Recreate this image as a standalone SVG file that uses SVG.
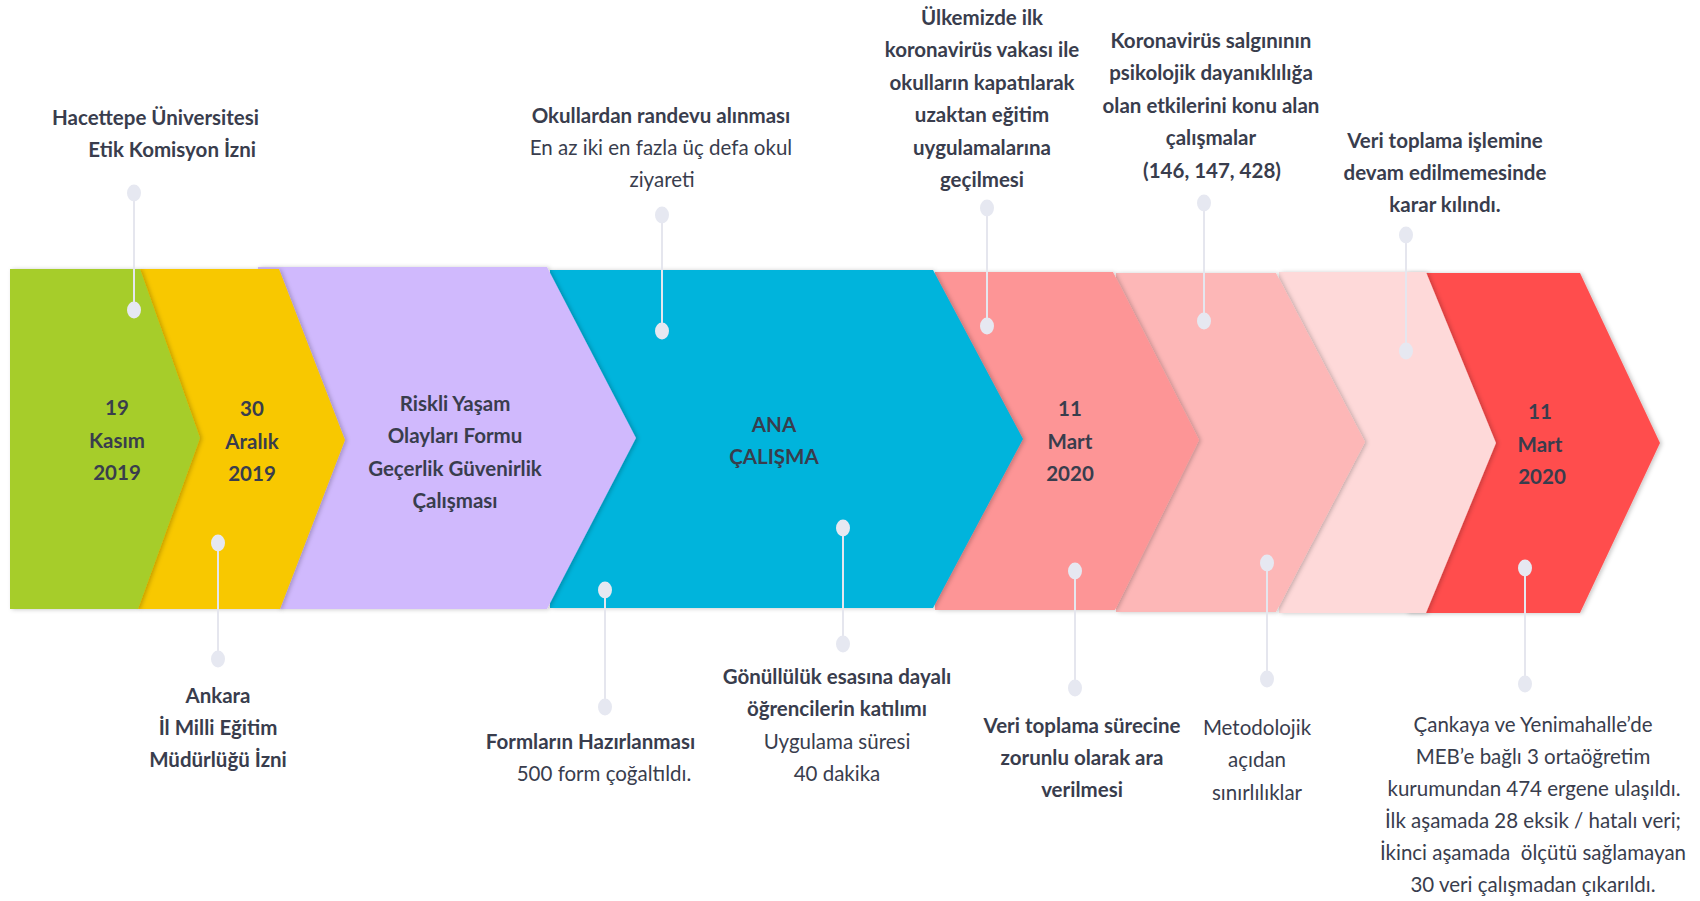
<svg xmlns="http://www.w3.org/2000/svg" width="1700" height="901" viewBox="0 0 1700 901">
<defs>
<filter id="sh" x="-10%" y="-10%" width="120%" height="120%">
<feDropShadow dx="2" dy="0.5" stdDeviation="2.2" flood-color="#000" flood-opacity="0.22"/>
</filter>
<style>
text{font-family:Lato,"Open Sans","Liberation Sans",sans-serif;font-size:20.5px;fill:#393d4d;text-anchor:middle}
.b{font-weight:700}
.r{font-weight:400}
.ln{stroke:#e5e6ee;stroke-width:2;fill:none}
.dot{fill:#e6e8f1}
</style>
</defs>
<rect width="1700" height="901" fill="#ffffff"/>
<g id="shapes">
<g id="n-red"><path filter="url(#sh)" fill="#ff4d4e" d="M1406,273 H1580 L1660,443 L1580,613 H1406 Z"/>
<text class="b"><tspan x="1540" y="419">11</tspan><tspan x="1540" y="452">Mart</tspan><tspan x="1542" y="484">2020</tspan></text></g>
<g id="n-lightpink"><path filter="url(#sh)" fill="#fed9d9" d="M1279,272 H1426 L1496,443 L1426,613 H1279 Z"/></g>
<g id="n-pink"><path filter="url(#sh)" fill="#fdb7b7" d="M1116,273 H1276 L1365,442 L1276,612 H1116 Z"/></g>
<g id="n-salmon"><path filter="url(#sh)" fill="#fd9596" d="M935,272 H1113 L1199,440 L1115,610 H935 Z"/>
<text class="b"><tspan x="1070" y="416">11</tspan><tspan x="1070" y="449">Mart</tspan><tspan x="1070" y="481">2020</tspan></text></g>
<g id="n-blue"><path filter="url(#sh)" fill="#00b4dc" d="M550,270 H933 L1023,439 L933,608 H550 Z"/>
<text class="b"><tspan x="774" y="431.5">ANA</tspan><tspan x="774" y="463.5">ÇALIŞMA</tspan></text></g>
<g id="n-purple"><path filter="url(#sh)" fill="#d0b9fd" d="M258,267 H547 L636,438 L547,609 H278 L258,300 Z"/>
<text class="b"><tspan x="455" y="410.5">Riskli Yaşam</tspan><tspan x="455" y="443">Olayları Formu</tspan><tspan x="455" y="475.5">Geçerlik Güvenirlik</tspan><tspan x="455" y="508">Çalışması</tspan></text></g>
<g id="n-yellow"><path filter="url(#sh)" fill="#f8c803" d="M140,269 H279 L345,440 L280,609 H138 Z"/>
<text class="b"><tspan x="252" y="416">30</tspan><tspan x="252" y="449">Aralık</tspan><tspan x="252" y="481">2019</tspan></text></g>
<g id="n-green"><path filter="url(#sh)" fill="#a6cd2a" d="M10,269 H140 L200,438 L138,609 H10 Z"/>
<text class="b"><tspan x="117" y="415">19</tspan><tspan x="117" y="447.5">Kasım</tspan><tspan x="117" y="480">2019</tspan></text></g>
</g>
<g id="connectors">
<line class="ln" x1="134" y1="193" x2="134" y2="310"/>
<line class="ln" x1="218" y1="543" x2="218" y2="659"/>
<line class="ln" x1="605" y1="590" x2="605" y2="707"/>
<line class="ln" x1="662" y1="215" x2="662" y2="331"/>
<line class="ln" x1="843" y1="528" x2="843" y2="644"/>
<line class="ln" x1="987" y1="208" x2="987" y2="326"/>
<line class="ln" x1="1075" y1="571" x2="1075" y2="688"/>
<line class="ln" x1="1204" y1="203" x2="1204" y2="321"/>
<line class="ln" x1="1267" y1="563" x2="1267" y2="679"/>
<line class="ln" x1="1406" y1="235" x2="1406" y2="351"/>
<line class="ln" x1="1525" y1="568" x2="1525" y2="684"/>
<ellipse class="dot" cx="134" cy="193" rx="7" ry="8.5"/><ellipse class="dot" cx="134" cy="310" rx="7" ry="8.5"/>
<ellipse class="dot" cx="218" cy="543" rx="7" ry="8.5"/><ellipse class="dot" cx="218" cy="659" rx="7" ry="8.5"/>
<ellipse class="dot" cx="605" cy="590" rx="7" ry="8.5"/><ellipse class="dot" cx="605" cy="707" rx="7" ry="8.5"/>
<ellipse class="dot" cx="662" cy="215" rx="7" ry="8.5"/><ellipse class="dot" cx="662" cy="331" rx="7" ry="8.5"/>
<ellipse class="dot" cx="843" cy="528" rx="7" ry="8.5"/><ellipse class="dot" cx="843" cy="644" rx="7" ry="8.5"/>
<ellipse class="dot" cx="987" cy="208" rx="7" ry="8.5"/><ellipse class="dot" cx="987" cy="326" rx="7" ry="8.5"/>
<ellipse class="dot" cx="1075" cy="571" rx="7" ry="8.5"/><ellipse class="dot" cx="1075" cy="688" rx="7" ry="8.5"/>
<ellipse class="dot" cx="1204" cy="203" rx="7" ry="8.5"/><ellipse class="dot" cx="1204" cy="321" rx="7" ry="8.5"/>
<ellipse class="dot" cx="1267" cy="563" rx="7" ry="8.5"/><ellipse class="dot" cx="1267" cy="679" rx="7" ry="8.5"/>
<ellipse class="dot" cx="1406" cy="235" rx="7" ry="8.5"/><ellipse class="dot" cx="1406" cy="351" rx="7" ry="8.5"/>
<ellipse class="dot" cx="1525" cy="568" rx="7" ry="8.5"/><ellipse class="dot" cx="1525" cy="684" rx="7" ry="8.5"/>
</g>
<g id="t-hacettepe"><text class="b" style="text-anchor:end"><tspan x="259" y="125">Hacettepe Üniversitesi</tspan><tspan x="256" y="157">Etik Komisyon İzni</tspan></text></g>
<g id="t-okullardan"><text><tspan class="b" x="661" y="123">Okullardan randevu alınması</tspan><tspan class="r" x="661" y="155">En az iki en fazla üç defa okul</tspan><tspan class="r" x="662" y="187">ziyareti</tspan></text></g>
<g id="t-ulkemizde"><text class="b"><tspan x="982" y="25">Ülkemizde ilk</tspan><tspan x="982" y="57.4">koronavirüs vakası ile</tspan><tspan x="982" y="89.8">okulların kapatılarak</tspan><tspan x="982" y="122.2">uzaktan eğitim</tspan><tspan x="982" y="154.6">uygulamalarına</tspan><tspan x="982" y="187">geçilmesi</tspan></text></g>
<g id="t-koronavirus"><text class="b"><tspan x="1211" y="48">Koronavirüs salgınının</tspan><tspan x="1211" y="80.4">psikolojik dayanıklılığa</tspan><tspan x="1211" y="112.8">olan etkilerini konu alan</tspan><tspan x="1211" y="145.2">çalışmalar</tspan><tspan x="1212" y="177.6">(146, 147, 428)</tspan></text></g>
<g id="t-veritoplama1"><text class="b"><tspan x="1445" y="148">Veri toplama işlemine</tspan><tspan x="1445" y="180">devam edilmemesinde</tspan><tspan x="1445" y="212">karar kılındı.</tspan></text></g>
<g id="t-ankara"><text class="b"><tspan x="218" y="703">Ankara</tspan><tspan x="218" y="735">İl Milli Eğitim</tspan><tspan x="218" y="767">Müdürlüğü İzni</tspan></text></g>
<g id="t-formlar"><text><tspan class="b" x="590.5" y="749">Formların Hazırlanması</tspan><tspan class="r" x="604" y="781">500 form çoğaltıldı.</tspan></text></g>
<g id="t-gonulluluk"><text><tspan class="b" x="837" y="684">Gönüllülük esasına dayalı</tspan><tspan class="b" x="837" y="716">öğrencilerin katılımı</tspan><tspan class="r" x="837" y="748.5">Uygulama süresi</tspan><tspan class="r" x="837" y="781">40 dakika</tspan></text></g>
<g id="t-veritoplama2"><text class="b"><tspan x="1082" y="733">Veri toplama sürecine</tspan><tspan x="1082" y="765">zorunlu olarak ara</tspan><tspan x="1082" y="797">verilmesi</tspan></text></g>
<g id="t-metodolojik"><text class="r"><tspan x="1257" y="735">Metodolojik</tspan><tspan x="1257" y="767">açıdan</tspan><tspan x="1257" y="800">sınırlılıklar</tspan></text></g>
<g id="t-cankaya"><text class="r" xml:space="preserve"><tspan x="1533" y="732">Çankaya ve Yenimahalle’de</tspan><tspan x="1533" y="764">MEB’e bağlı 3 ortaöğretim</tspan><tspan x="1534" y="796">kurumundan 474 ergene ulaşıldı.</tspan><tspan x="1533" y="828">İlk aşamada 28 eksik / hatalı veri;</tspan><tspan x="1533" y="860">İkinci aşamada  ölçütü sağlamayan</tspan><tspan x="1533" y="892">30 veri çalışmadan çıkarıldı.</tspan></text></g>
</svg>
